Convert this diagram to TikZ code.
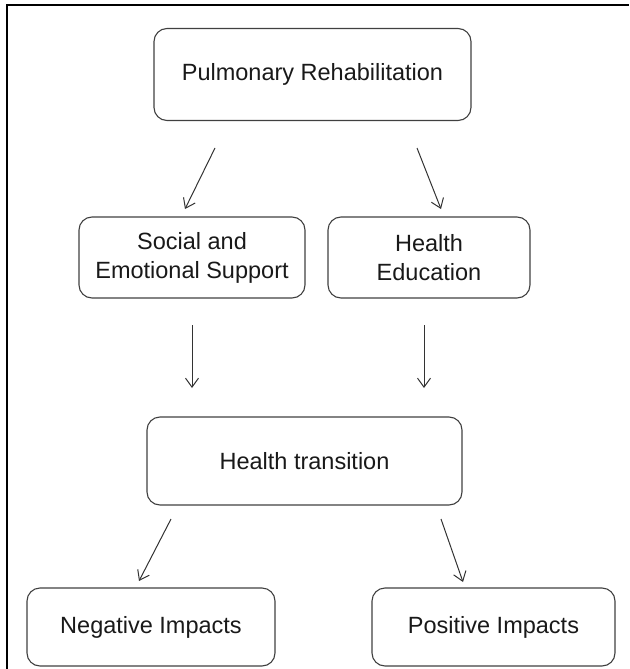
\documentclass[tikz,border=0pt]{standalone}
\usepackage{fontspec}
\setmainfont{Liberation Sans}
\usetikzlibrary{arrows.meta}
\begin{document}
\begin{tikzpicture}[x=1pt,y=-1pt,
  box/.style={draw=black!75, line width=1.1pt, rounded corners=13pt, align=center,
    inner sep=0pt, font=\fontsize{23.5}{29}\selectfont, text=black!90},
  arr/.style={draw=black!80, line width=1pt, -{Straight Barb[length=9pt,width=13pt,line width=1pt]}},
  frame/.style={line width=2.6pt, black}]
\useasboundingbox (0,0) rectangle (629,669);
\draw[frame] (7,669) -- (7,5) -- (629,5);
\node[box, minimum width=317, minimum height=92] (pr) at (312.5,74.5) {Pulmonary Rehabilitation};
\node[box, minimum width=226, minimum height=81] (soc) at (192,257.5) {Social and\\Emotional Support};
\node[box, minimum width=202, minimum height=81] (he) at (429,257.5) {Health\\Education};
\node[box, minimum width=315, minimum height=88] (ht) at (304.5,461) {Health transition};
\node[box, minimum width=248, minimum height=78] (neg) at (151,627) {Negative Impacts};
\node[box, minimum width=243, minimum height=78] (pos) at (493.5,627) {Positive Impacts};
\coordinate (a1s) at (215,148); \coordinate (a1e) at (185,209);
\coordinate (a2s) at (417,148); \coordinate (a2e) at (441,209);
\coordinate (a3s) at (192,325); \coordinate (a3e) at (192,388);
\coordinate (a4s) at (424,325); \coordinate (a4e) at (424,388);
\coordinate (a5s) at (171,519); \coordinate (a5e) at (139,581);
\coordinate (a6s) at (441,519); \coordinate (a6e) at (463,582);
\draw[arr] (a1s) -- (a1e);
\draw[arr] (a2s) -- (a2e);
\draw[arr] (a3s) -- (a3e);
\draw[arr] (a4s) -- (a4e);
\draw[arr] (a5s) -- (a5e);
\draw[arr] (a6s) -- (a6e);
\end{tikzpicture}
\end{document}
